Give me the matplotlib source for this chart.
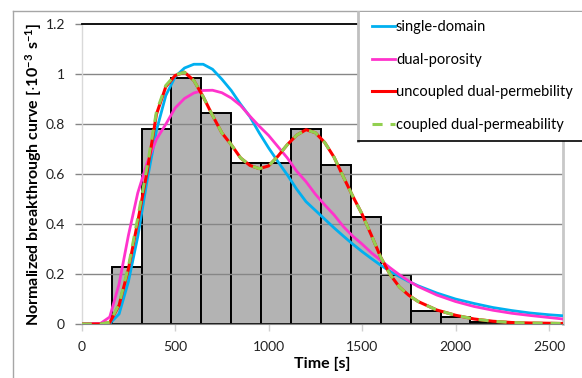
import matplotlib
matplotlib.use("Agg")
import matplotlib.pyplot as plt
from matplotlib.lines import Line2D
import numpy as np

# ---- data ----
bin_left = [160, 320, 480, 640, 800, 960, 1120, 1280, 1440, 1600, 1760, 1920, 2080, 2240, 2400]
bin_width = 160
bin_height = [0.23, 0.78, 0.983, 0.843, 0.643, 0.645, 0.779, 0.635, 0.429, 0.195, 0.053, 0.027, 0.008, 0.003, 0.002]

t = [0, 100, 150, 200, 250, 300, 350, 400, 450, 500, 550, 600, 650, 700, 750, 800,
     850, 900, 950, 1000, 1050, 1100, 1150, 1200, 1250, 1300, 1350, 1400, 1450, 1500,
     1550, 1600, 1650, 1700, 1750, 1800, 1900, 2000, 2100, 2200, 2300, 2400, 2500, 2575]

single_domain = [0, 0, 0.002, 0.04, 0.17, 0.35, 0.575, 0.775, 0.915, 0.99, 1.025, 1.04, 1.04,
                 1.02, 0.98, 0.935, 0.88, 0.83, 0.765, 0.705, 0.65, 0.597, 0.54, 0.49, 0.455,
                 0.42, 0.385, 0.352, 0.32, 0.29, 0.262, 0.235, 0.211, 0.19, 0.17, 0.153, 0.124,
                 0.1, 0.082, 0.066, 0.054, 0.044, 0.037, 0.033]

dual_porosity = [0, 0.002, 0.028, 0.16, 0.355, 0.525, 0.645, 0.74, 0.80, 0.865, 0.903, 0.925,
                 0.935, 0.936, 0.926, 0.905, 0.875, 0.832, 0.792, 0.755, 0.71, 0.665, 0.612,
                 0.57, 0.52, 0.477, 0.437, 0.39, 0.352, 0.32, 0.285, 0.255, 0.225, 0.197,
                 0.172, 0.15, 0.116, 0.09, 0.07, 0.055, 0.043, 0.034, 0.026, 0.02]

uncoupled = [0, 0, 0.006, 0.075, 0.22, 0.41, 0.61, 0.84, 0.95, 0.995, 1.008, 0.975, 0.91,
             0.835, 0.765, 0.718, 0.665, 0.635, 0.622, 0.633, 0.672, 0.718, 0.756, 0.778,
             0.766, 0.727, 0.668, 0.589, 0.512, 0.44, 0.355, 0.267, 0.198, 0.148, 0.115,
             0.09, 0.056, 0.035, 0.02, 0.011, 0.006, 0.004, 0.003, 0.002]

coupled = [0, 0, 0.007, 0.08, 0.23, 0.425, 0.63, 0.85, 0.955, 0.997, 1.008, 0.975, 0.91,
           0.835, 0.765, 0.718, 0.665, 0.635, 0.622, 0.633, 0.672, 0.718, 0.756, 0.778,
           0.766, 0.727, 0.668, 0.589, 0.512, 0.44, 0.355, 0.267, 0.198, 0.148, 0.115,
           0.09, 0.056, 0.035, 0.02, 0.011, 0.006, 0.004, 0.003, 0.002]

x_ticks = [0, 500, 1000, 1500, 2000, 2500]
y_ticks = [0, 0.2, 0.4, 0.6, 0.8, 1.0, 1.2]
y_tick_labels = ["0", "0.2", "0.4", "0.6", "0.8", "1", "1.2"]

# ---- style ----
plt.rcParams['font.family'] = ['Lato', 'DejaVu Sans']
plt.rcParams['mathtext.fontset'] = 'custom'
plt.rcParams['mathtext.rm'] = 'Lato'
plt.rcParams['mathtext.bf'] = 'Lato:bold'

W, H = 582, 378
fig = plt.figure(figsize=(W / 100, H / 100), dpi=100)
L, R, B, T = 81.7, 563, 324, 24.3
ax = fig.add_axes([L / W, 1 - B / H, (R - L) / W, (B - T) / H])

centers = [b + bin_width / 2 for b in bin_left]
ax.bar(centers, bin_height, width=bin_width, color='#b3b3b3', edgecolor='black',
       linewidth=1.4, zorder=1)

for yv in y_ticks[:-1]:
    ax.axhline(yv, color='#868686', lw=1.0, zorder=1.5)

ax.plot(t, single_domain, color='#00b0f0', lw=2.0, zorder=3, label='single-domain')
ax.plot(t, dual_porosity, color='#ff33cc', lw=2.0, zorder=3, label='dual-porosity')
ax.plot(t, uncoupled, color='#ff0000', lw=2.2, zorder=4, label='uncoupled dual-permebility')
ax.plot(t, coupled, color='#92d050', lw=2.2, zorder=5, dashes=(3.3, 2.6),
        label='coupled dual-permeability')

ax.set_xlim(0, 2575)
ax.set_ylim(0, 1.2)
ax.set_xticks(x_ticks)
ax.set_yticks(y_ticks)
ax.set_yticklabels(y_tick_labels)
ax.tick_params(axis='x', direction='out', length=5, width=1, color='#d0d0d0',
               pad=7, labelsize=10, labelcolor='#222222')
ax.tick_params(axis='y', direction='out', length=5, width=1, color='#868686',
               pad=7, labelsize=10, labelcolor='#222222')

ax.spines['left'].set_color('#d9d9d9')
ax.spines['left'].set_linewidth(1.0)
ax.spines['bottom'].set_color('#868686')
ax.spines['right'].set_color('#c8c8c8')
ax.spines['right'].set_linewidth(2.0)
ax.spines['top'].set_color('black')
ax.spines['top'].set_linewidth(1.3)

ax.set_xlabel('Time [s]', fontsize=11.5, fontweight='bold')
ax.set_ylabel(r'Normalized breakthrough curve [$\mathregular{\cdot 10^{-3}\ s^{-1}}$]',
              fontsize=11.5, fontweight='bold')
ax.xaxis.set_label_coords(0.5, -0.11)
ax.yaxis.set_label_coords(-0.078, 0.5)

# chart outer border
fig.add_artist(Line2D([13 / W, 13 / W], [0, 1 - 11 / H], transform=fig.transFigure,
                      color='#a6a6a6', lw=1.0))
fig.add_artist(Line2D([13 / W, 1], [1 - 11 / H, 1 - 11 / H], transform=fig.transFigure,
                      color='#a6a6a6', lw=1.0))

# legend box
fig.add_artist(plt.Rectangle((357.5 / W, 1 - 141 / H), (W - 357.5) / W + 0.01, (141 - 11.5) / H,
                             transform=fig.transFigure, facecolor='white', edgecolor='none',
                             zorder=10))
fig.add_artist(Line2D([357.5 / W, 357.5 / W], [1 - 141 / H, 1 - 11.5 / H],
                      transform=fig.transFigure, color='#c0c0c0', lw=2.0, zorder=11))
fig.add_artist(Line2D([357.5 / W, 1], [1 - 141 / H, 1 - 141 / H],
                      transform=fig.transFigure, color='black', lw=1.2, zorder=11))

handles, labels = ax.get_legend_handles_labels()
leg = fig.legend(handles, labels, loc='upper left', bbox_to_anchor=(372 / W, 1 - 20 / H),
                 frameon=False, fontsize=10.5, handlelength=1.6, handletextpad=0.05,
                 labelspacing=1.28, borderaxespad=0, borderpad=0)
leg.set_zorder(12)

fig.savefig('out.png', dpi=100)
